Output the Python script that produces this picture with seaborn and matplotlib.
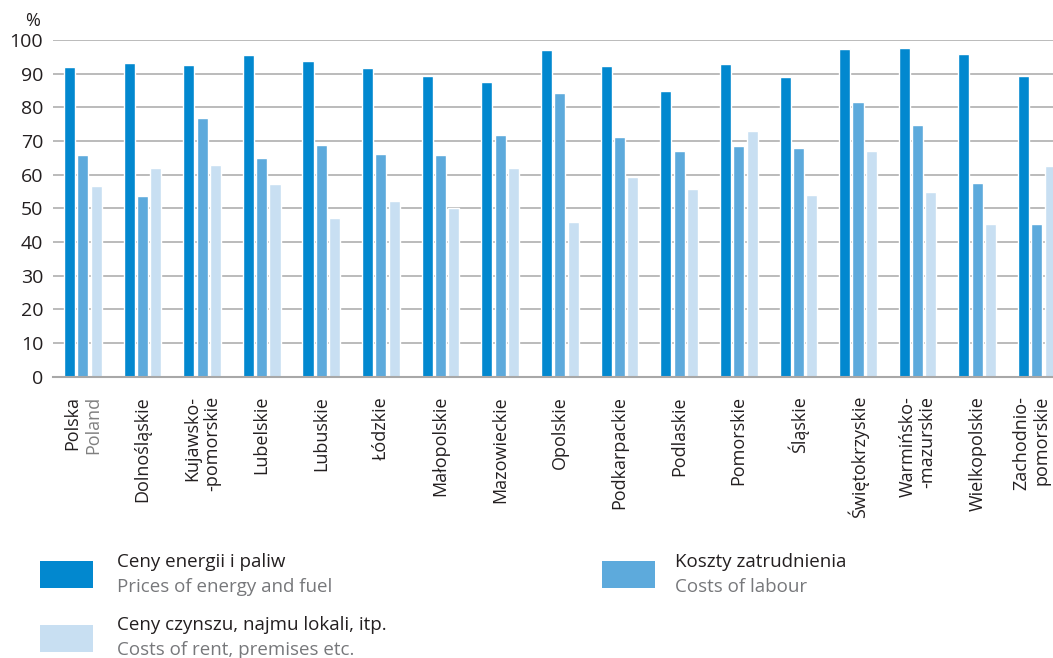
import pandas as pd
import seaborn as sns
import matplotlib.pyplot as plt
import matplotlib.patches as mpatches
from matplotlib.transforms import ScaledTranslation

# Regions (tick labels) and shares of enterprises, %
regions = ['Polska', 'Dolnośląskie', 'Kujawsko-\n-pomorskie', 'Lubelskie', 'Lubuskie',
           'Łódzkie', 'Małopolskie', 'Mazowieckie', 'Opolskie', 'Podkarpackie',
           'Podlaskie', 'Pomorskie', 'Śląskie', 'Świętokrzyskie',
           'Warmińsko-\n-mazurskie', 'Wielkopolskie', 'Zachodnio-\npomorskie']
energy = [91.9, 93.2, 92.7, 95.5, 93.7, 91.7, 89.3, 87.5, 97.0, 92.3,
          84.9, 92.9, 89.1, 97.2, 97.5, 95.7, 89.3]
labour = [65.7, 53.5, 76.8, 65.0, 68.8, 66.1, 65.7, 71.8, 84.2, 71.2,
          67.0, 68.5, 67.9, 81.7, 74.8, 57.5, 45.2]
rent = [56.5, 61.9, 63.0, 57.3, 47.1, 52.2, 50.2, 62.0, 46.0, 59.4,
        55.6, 73.0, 54.0, 67.0, 54.9, 45.3, 62.7]

series_pl = ['Ceny energii i paliw', 'Koszty zatrudnienia', 'Ceny czynszu, najmu lokali, itp.']
series_en = ['Prices of energy and fuel', 'Costs of labour', 'Costs of rent, premises etc.']
colors = ['#0288cf', '#5daadc', '#c8dff2']

W, H = 1053, 658

# Long-form table for seaborn
df = pd.DataFrame({
    'region': regions * 3,
    'value': energy + labour + rent,
    'series': [s for s in series_pl for _ in regions],
})

sns.set_theme(style='white')
plt.rcParams['font.family'] = ['Open Sans', 'DejaVu Sans']

fig = plt.figure(figsize=(W / 100, H / 100), dpi=100)
ax = fig.add_axes([53 / W, 1 - 376.5 / H, 1 - 53 / W, 336.5 / H])

sns.barplot(data=df, x='region', y='value', hue='series', order=regions,
            hue_order=series_pl, palette=colors, width=0.67, gap=0.17,
            saturation=1, legend=False, ax=ax)

ax.set_xlim(-0.5, 16.27)
ax.set_ylim(0, 100)
ax.set_yticks(range(0, 101, 10))
ax.set_axisbelow(True)
ax.yaxis.grid(True, color='#b5b5b5', linewidth=1.3)
ax.xaxis.grid(False)
for side in ['left', 'right', 'top']:
    ax.spines[side].set_visible(False)
ax.spines['bottom'].set_color('#a8a8a8')
ax.spines['bottom'].set_linewidth(1.5)
ax.set_xlabel('')
ax.set_ylabel('')

ax.tick_params(axis='y', length=0, pad=7, labelsize=14, labelcolor='#231f20')
ax.tick_params(axis='x', length=0, pad=14, labelsize=13, labelcolor='#231f20')

# x tick labels: Polska/Poland drawn separately with two colours
labels = [''] + regions[1:]
ax.set_xticks(range(len(regions)))
ax.set_xticklabels(labels, rotation=90, ha='center', va='top',
                   multialignment='right', linespacing=1.1)

# last label sits against the right edge, nudge it a little left
last = ax.get_xticklabels()[-1]
last.set_transform(last.get_transform() + ScaledTranslation(-4 / 72, 0, fig.dpi_scale_trans))

ax.annotate('Polska', xy=(0, 0), xycoords=('data', 'axes fraction'),
            xytext=(-7.6, -14), textcoords='offset points', rotation=90,
            ha='center', va='top', fontsize=13, color='#231f20')
ax.annotate('Poland', xy=(0, 0), xycoords=('data', 'axes fraction'),
            xytext=(7.4, -14), textcoords='offset points', rotation=90,
            ha='center', va='top', fontsize=13, color='#808080')

fig.text(25 / W, 1 - 12 / H, '%', ha='left', va='top', fontsize=13, color='#231f20')

# Legend drawn by hand (two-colour labels)
def fx(x):
    return x / W


def fy(y):
    return 1 - y / H


legend_pos = [(40, 588, 117, 567), (602, 588, 675, 567), (40, 652, 117, 630)]
for (px, py, tx, ty), c, pl, en in zip(legend_pos, colors, series_pl, series_en):
    fig.add_artist(mpatches.Rectangle((fx(px), fy(py)), 53 / W, 27 / H,
                                      transform=fig.transFigure, color=c, lw=0))
    fig.text(fx(tx), fy(ty), pl, ha='left', va='baseline', fontsize=13.5, color='#231f20')
    fig.text(fx(tx), fy(ty + 25), en, ha='left', va='baseline', fontsize=13.5, color='#77787b')

fig.savefig('out.png', dpi=100)
